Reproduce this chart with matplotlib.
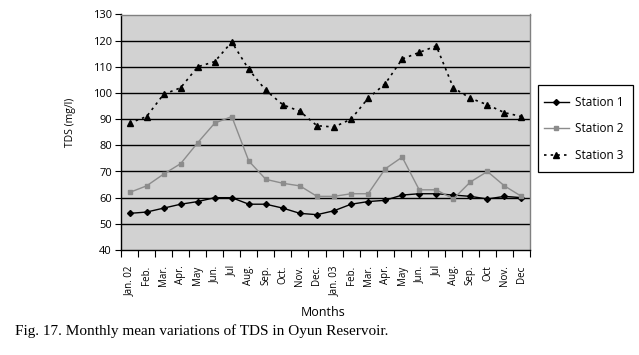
import matplotlib
matplotlib.use("Agg")
import matplotlib.pyplot as plt
from matplotlib.patches import Rectangle
import numpy as np

months = ["Jan. 02", "Feb.", "Mar.", "Apr.", "May", "Jun.", "Jul", "Aug.", "Sep.", "Oct.", "Nov.", "Dec.",
          "Jan. 03", "Feb.", "Mar.", "Apr.", "May", "Jun.", "Jul", "Aug.", "Sep.", "Oct", "Nov.", "Dec"]
station1 = [54, 54.5, 56, 57.5, 58.5, 60, 60, 57.5, 57.5, 56, 54, 53.5,
            55, 57.5, 58.5, 59, 61, 61.5, 61.5, 61, 60.5, 59.5, 60.5, 60]
station2 = [62, 64.5, 69, 73, 81, 88.5, 91, 74, 67, 65.5, 64.5, 60.5,
            60.5, 61.5, 61.5, 71, 75.5, 63, 63, 59.5, 66, 70, 64.5, 60.5]
station3 = [88.5, 91, 99.5, 102, 110, 112, 119.5, 109, 101, 95.5, 93, 87.5,
            87, 90, 98, 103.5, 113, 115.5, 118, 102, 98, 95.5, 92.5, 91]
yticks = list(range(40, 131, 10))

W, H = 639, 355
fig = plt.figure(figsize=(W / 100, H / 100), dpi=100)
sans = "Open Sans"
ax = fig.add_axes([121 / W, 1 - 250 / H, (530 - 121) / W, (250 - 14.5) / H])
ax.set_facecolor("#d2d2d2")

x = np.arange(len(months))
ax.plot(x, station1, color="black", lw=1.0, marker="D", ms=3, label="Station 1")
ax.plot(x, station2, color="#8c8c8c", lw=1.0, marker="s", ms=3.5, label="Station 2")
ax.plot(x, station3, color="black", lw=1.2, ls=(0, (1.5, 2.5)), marker="^", ms=4, label="Station 3")

ax.set_xlim(-0.5, len(months) - 0.5)
ax.set_ylim(40, 130)
ax.set_yticks(yticks)
ax.set_yticklabels([str(v) for v in yticks], fontsize=8, family=sans)
for v in yticks[1:-1]:
    ax.axhline(v, color="black", lw=1.0, zorder=0.5)

ax.set_xticks(x)
ax.set_xticklabels(months, rotation=90, fontsize=7, family=sans)
ax.set_xticks(np.arange(-0.5, len(months)), minor=True)
ax.tick_params(axis="x", which="major", length=0, pad=11)
ax.tick_params(axis="x", which="minor", length=5, width=0.8)
ax.tick_params(axis="y", length=4.5, width=0.8, pad=2)

for s in ["left", "bottom"]:
    ax.spines[s].set_color("black")
    ax.spines[s].set_linewidth(1.0)
for s in ["top", "right"]:
    ax.spines[s].set_color("#808080")
    ax.spines[s].set_linewidth(1.0)

fig.text(70 / W, 1 - 122 / H, "TDS (mg/l)", rotation=90, ha="center", va="center", fontsize=7.5, family=sans)
fig.text(323 / W, 1 - 313 / H, "Months", ha="center", va="center", fontsize=9, family=sans)
fig.text(15 / W, 1 - 331 / H, "Fig. 17. Monthly mean variations of TDS in Oyun Reservoir.",
         ha="left", va="center", fontsize=11, family="Liberation Serif")

fig.patches.append(Rectangle((538 / W, 1 - 172 / H), (633 - 538) / W, (172 - 85) / H,
                             transform=fig.transFigure, fill=False, edgecolor="black", lw=0.9))
leg = fig.legend(loc="center left", bbox_to_anchor=(538 / W, 1 - 129 / H), bbox_transform=fig.transFigure,
                 frameon=False, prop={"family": sans, "size": 8.5},
                 handlelength=2.1, handletextpad=0.5, labelspacing=1.15, borderpad=0.0)

fig.savefig("out.png", dpi=100)
